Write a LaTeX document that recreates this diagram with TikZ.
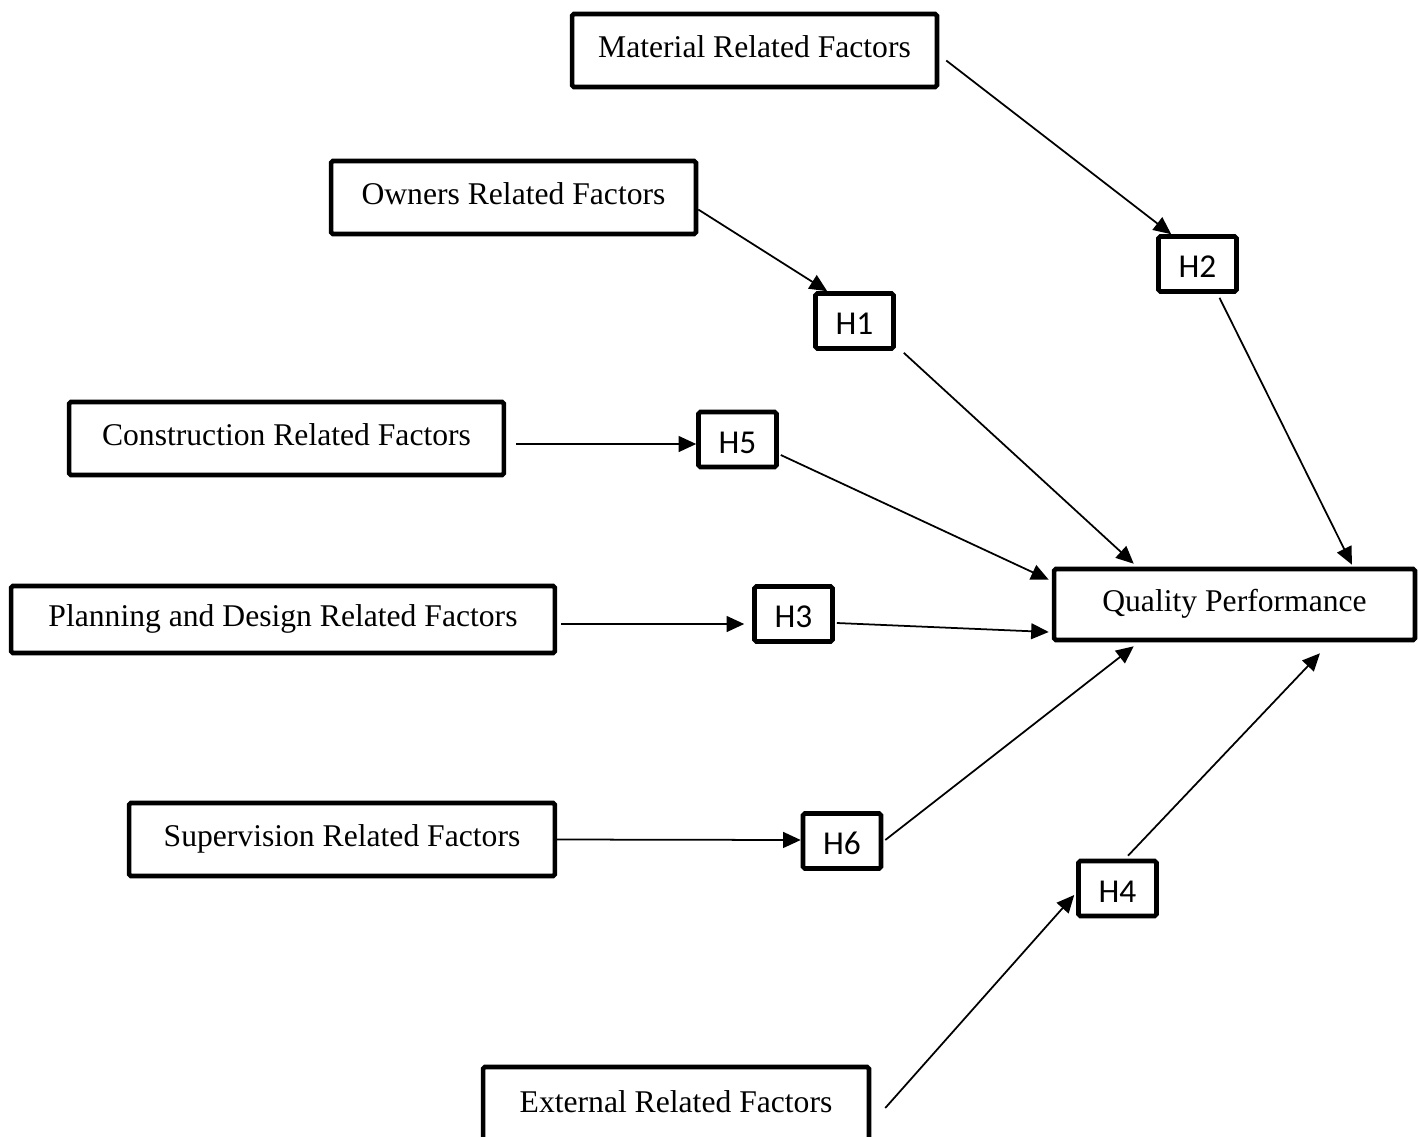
\documentclass[tikz,border=0pt]{standalone}
\usepackage{fontspec}
\setmainfont{Liberation Serif}
\newfontfamily\hypfont{Carlito}
\usetikzlibrary{arrows.meta}

\begin{document}
\begin{tikzpicture}[
    x=0.02cm, y=-0.02cm,
    factor/.style={rectangle, draw, line width=2.6pt, rounded corners=1pt, minimum height=1.46cm, inner sep=0pt, text height=12.6pt, text depth=5.2pt, font=\fontsize{18}{21}\selectfont},
    hyp/.style={rectangle, draw, line width=2.6pt, rounded corners=1pt, minimum width=1.56cm, minimum height=1.1cm, inner sep=0pt, text height=16pt, text depth=0.6pt, font=\hypfont\fontsize{19}{22}\selectfont},
    arrow/.style={-{Triangle[length=10pt, width=9pt]}, line width=1pt},
]
\useasboundingbox (0,0) rectangle (1418,1137);

%% NODES
    % factors
    \node[factor, minimum width=7.3cm] (material) at (754.5,50.5) {Material Related Factors};
    \node[factor, minimum width=7.3cm] (owners) at (513.5,197.5) {Owners Related Factors};
    \node[factor, minimum width=8.7cm] (construction) at (286.5,438.5) {Construction Related Factors};
    \node[factor, minimum width=10.88cm, minimum height=1.34cm] (planning) at (283,619.5) {Planning and Design Related Factors};
    \node[factor, minimum width=8.52cm] (supervision) at (342,839.5) {Supervision Related Factors};
    \node[factor, minimum width=7.72cm, minimum height=1.56cm] (external) at (676,1106) {External Related Factors};

    % outcome
    \node[factor, minimum width=7.22cm, minimum height=1.42cm] (quality) at (1234.5,604.5) {Quality Performance};

    % hypotheses
    \node[hyp] (h2) at (1197.5,264) {H2};
    \node[hyp] (h1) at (854.5,321) {H1};
    \node[hyp] (h5) at (737.5,439.5) {H5};
    \node[hyp] (h3) at (793.5,614) {H3};
    \node[hyp] (h6) at (842,841) {H6};
    \node[hyp] (h4) at (1117.5,888.5) {H4};

%% CONNECTIONS
    % material -> H2 -> quality
    \draw[arrow] ([shift={(7,10)}]material.east) -- ([shift={(15,0)}]h2.north west);
    \draw[arrow] ([shift={(22,4)}]h2.south) -- ([shift={(117.5,-2)}]quality.north);

    % owners -> H1 -> quality
    \draw[arrow] ([shift={(0,12)}]owners.east) -- ([shift={(14,0)}]h1.north west);
    \draw[arrow] ([shift={(8,2)}]h1.south east) -- ([shift={(82,-3)}]quality.north west);

    % construction -> H5 -> quality
    \draw[arrow] ([shift={(10,5.5)}]construction.east) -- ([shift={(0,4.5)}]h5.west);
    \draw[arrow] ([shift={(2,15.5)}]h5.east) -- ([shift={(-3,13)}]quality.north west);

    % planning -> H3 -> quality
    \draw[arrow] ([shift={(4,4.5)}]planning.east) -- ([shift={(-8,10)}]h3.west);
    \draw[arrow] ([shift={(2,9)}]h3.east) -- ([shift={(-3,27.5)}]quality.west);

    % supervision -> H6 -> quality
    \draw[arrow] (supervision.east) -- ([shift={(0,-1)}]h6.west);
    \draw[arrow] ([shift={(2,-1)}]h6.east) -- ([shift={(82,4)}]quality.south west);

    % external -> H4 -> quality
    \draw[arrow] ([shift={(14,2)}]external.east) -- ([shift={(-2,6.5)}]h4.west);
    \draw[arrow] ([shift={(10.5,-3)}]h4.north) -- ([shift={(85.5,11)}]quality.south);

\end{tikzpicture}
\end{document}
